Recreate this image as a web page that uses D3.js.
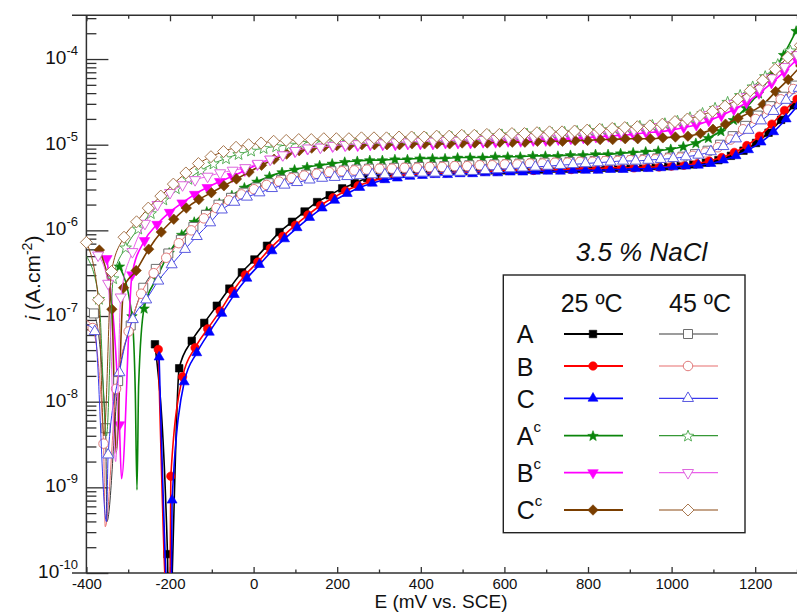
<!DOCTYPE html>
<html><head><meta charset="utf-8">
<script src="https://cdn.jsdelivr.net/npm/d3@7/dist/d3.min.js"></script>
<style>body{margin:0;background:#fff}svg{display:block;font-family:"Liberation Sans",Arial,sans-serif}</style>
</head><body>
<svg id="chart" width="797" height="614"></svg>
<script>
// ---------- axis values ----------
const X_DOMAIN = [-400, 1300];
const Y_DOMAIN = [1e-10, 3.24e-4];
const X_TICKS = [-400,-200,0,200,400,600,800,1000,1200];
const X_MINOR = [-300,-100,100,300,500,700,900,1100,1300];
const Y_TICKS = [1e-10,1e-9,1e-8,1e-7,1e-6,1e-5,1e-4];
const Y_EXP = ['-10','-9','-8','-7','-6','-5','-4'];

// ---------- data: E (mV vs SCE), log10 i (A/cm2); X_* = line-only points near Ecorr ----------
const E_A25 = [-236,-206,-178,-148,-118,-88,-58,-28,2,32,62,92,122,152,182,212,242,272,302,332,362,392,422,452,482,512,542,572,602,632,662,692,722,752,782,812,842,872,902,932,962,992,1022,1052,1082,1112,1142,1172,1202,1232,1262,1292];
const L_A25 = [-7.33,-9.78,-7.61,-7.29,-7.08,-6.88,-6.68,-6.49,-6.34,-6.18,-6.02,-5.90,-5.78,-5.67,-5.59,-5.51,-5.45,-5.39,-5.36,-5.34,-5.33,-5.32,-5.32,-5.31,-5.31,-5.31,-5.30,-5.30,-5.30,-5.29,-5.29,-5.29,-5.28,-5.28,-5.28,-5.27,-5.27,-5.27,-5.26,-5.26,-5.25,-5.25,-5.24,-5.23,-5.21,-5.18,-5.13,-5.07,-4.98,-4.86,-4.71,-4.54];
const X_A25 = [[-203,-10.8]];

const E_B25 = [-228,-198,-170,-140,-110,-80,-50,-20,10,40,70,100,130,160,190,220,250,280,310,340,370,400,430,460,490,520,550,580,610,640,670,700,730,760,790,820,850,880,910,940,970,1000,1030,1060,1090,1120,1150,1180,1210,1240,1270,1300];
const L_B25 = [-7.39,-8.87,-7.71,-7.37,-7.15,-6.94,-6.71,-6.52,-6.37,-6.21,-6.07,-5.94,-5.82,-5.71,-5.62,-5.54,-5.48,-5.43,-5.39,-5.36,-5.35,-5.34,-5.33,-5.33,-5.32,-5.32,-5.31,-5.31,-5.30,-5.30,-5.30,-5.29,-5.29,-5.29,-5.28,-5.28,-5.27,-5.27,-5.27,-5.26,-5.26,-5.25,-5.24,-5.22,-5.19,-5.15,-5.09,-5.01,-4.90,-4.76,-4.60,-4.47];
const X_B25 = [[-201,-10.8]];

const E_C25 = [-226,-195,-166,-136,-106,-76,-46,-16,14,44,74,104,134,164,194,224,254,284,314,344,374,404,434,464,494,524,554,584,614,644,674,704,734,764,794,824,854,884,914,944,974,1004,1034,1064,1094,1124,1154,1184,1214,1244,1274,1304];
const L_C25 = [-7.48,-9.15,-7.77,-7.43,-7.19,-6.97,-6.75,-6.56,-6.40,-6.24,-6.10,-5.97,-5.85,-5.74,-5.65,-5.57,-5.50,-5.45,-5.41,-5.39,-5.37,-5.36,-5.35,-5.35,-5.34,-5.34,-5.33,-5.33,-5.32,-5.32,-5.31,-5.31,-5.31,-5.30,-5.30,-5.30,-5.29,-5.29,-5.28,-5.28,-5.27,-5.26,-5.25,-5.24,-5.22,-5.18,-5.13,-5.06,-4.97,-4.85,-4.70,-4.53];
const X_C25 = [[-198,-10.8]];

const E_Ac25 = [-321,-291,-262,-232,-202,-172,-142,-112,-82,-52,-22,8,38,68,98,128,158,188,218,248,278,308,338,368,398,428,458,488,518,548,578,608,638,668,698,728,758,788,818,848,878,908,938,968,998,1028,1058,1088,1118,1148,1178,1208,1238,1268,1298];
const L_Ac25 = [-6.42,-7.00,-6.91,-6.56,-6.26,-6.05,-5.90,-5.78,-5.68,-5.59,-5.50,-5.43,-5.37,-5.32,-5.29,-5.26,-5.24,-5.22,-5.20,-5.19,-5.18,-5.18,-5.17,-5.17,-5.16,-5.16,-5.16,-5.15,-5.15,-5.15,-5.14,-5.14,-5.14,-5.13,-5.13,-5.13,-5.12,-5.12,-5.11,-5.11,-5.10,-5.09,-5.08,-5.07,-5.05,-5.02,-4.98,-4.92,-4.84,-4.71,-4.57,-4.40,-4.19,-3.95,-3.67];
const X_Ac25 = [[-283,-7.9],[-279,-9.03],[-275,-7.8]];

const E_Bc25 = [-351,-321,-291,-261,-231,-201,-171,-141,-111,-81,-51,-21,9,39,69,99,129,159,189,219,249,279,309,339,369,399,429,459,489,519,549,579,609,639,669,699,729,759,789,819,849,879,909,939,969,999,1029,1059,1089,1119,1149,1179,1209,1239,1269,1299];
const L_Bc25 = [-6.33,-8.27,-6.52,-6.12,-5.93,-5.79,-5.68,-5.58,-5.50,-5.43,-5.37,-5.30,-5.23,-5.17,-5.12,-5.08,-5.05,-5.03,-5.02,-5.01,-5.01,-5.00,-5.00,-5.00,-4.99,-4.99,-4.99,-4.98,-4.98,-4.98,-4.97,-4.97,-4.96,-4.96,-4.95,-4.95,-4.94,-4.93,-4.92,-4.91,-4.90,-4.89,-4.88,-4.86,-4.85,-4.83,-4.80,-4.77,-4.72,-4.66,-4.59,-4.51,-4.40,-4.28,-4.15,-4.01];
const X_Bc25 = [[-316,-8.9]];

const E_Cc25 = [-369,-339,-311,-281,-251,-221,-191,-161,-131,-101,-71,-41,-11,19,49,79,109,139,169,199,229,259,289,319,349,379,409,439,469,499,529,559,589,619,649,679,709,739,769,799,829,859,889,919,949,979,1009,1039,1069,1099,1129,1159,1189,1219,1249,1279,1309];
const L_Cc25 = [-6.23,-6.92,-6.67,-6.47,-6.22,-6.02,-5.87,-5.74,-5.64,-5.56,-5.48,-5.40,-5.32,-5.24,-5.17,-5.11,-5.07,-5.04,-5.02,-5.01,-5.01,-5.00,-5.00,-5.00,-5.00,-4.99,-4.99,-4.99,-4.99,-4.98,-4.98,-4.98,-4.97,-4.97,-4.97,-4.96,-4.96,-4.96,-4.95,-4.95,-4.94,-4.94,-4.93,-4.93,-4.93,-4.92,-4.91,-4.90,-4.87,-4.82,-4.76,-4.69,-4.62,-4.53,-4.38,-4.24,-4.08];
const X_Cc25 = [[-329,-8.6]];

const E_A45 = [-382,-354,-324,-294,-264,-234,-204,-174,-144,-114,-84,-54,-24,6,36,66,96,126,156,186,216,246,276,306,336,366,396,426,456,486,516,546,576,606,636,666,696,726,756,786,816,846,876,906,936,966,996,1026,1056,1086,1116,1146,1176,1206,1236,1266,1296];
const L_A45 = [-6.97,-8.31,-7.76,-7.11,-6.67,-6.45,-6.27,-6.11,-5.96,-5.82,-5.70,-5.62,-5.56,-5.50,-5.45,-5.41,-5.38,-5.35,-5.33,-5.31,-5.30,-5.29,-5.28,-5.28,-5.27,-5.27,-5.26,-5.26,-5.25,-5.25,-5.24,-5.24,-5.23,-5.23,-5.22,-5.22,-5.21,-5.21,-5.20,-5.20,-5.19,-5.19,-5.18,-5.18,-5.17,-5.16,-5.15,-5.14,-5.11,-5.07,-5.00,-4.90,-4.78,-4.66,-4.55,-4.44,-4.31];
const X_A45 = [[-400,-6.90],[-351,-9.4]];

const E_B45 = [-385,-359,-329,-299,-269,-239,-209,-179,-149,-119,-89,-59,-29,1,31,61,91,121,151,181,211,241,271,301,331,361,391,421,451,481,511,541,571,601,631,661,691,721,751,781,811,841,871,901,931,961,991,1021,1051,1081,1111,1141,1171,1201,1231,1261,1291];
const L_B45 = [-7.14,-8.49,-7.85,-7.18,-6.74,-6.50,-6.32,-6.15,-6.00,-5.86,-5.74,-5.65,-5.58,-5.52,-5.47,-5.43,-5.39,-5.36,-5.34,-5.32,-5.31,-5.30,-5.29,-5.28,-5.28,-5.27,-5.27,-5.26,-5.26,-5.25,-5.25,-5.24,-5.24,-5.23,-5.23,-5.22,-5.22,-5.21,-5.21,-5.20,-5.20,-5.19,-5.19,-5.18,-5.18,-5.17,-5.16,-5.15,-5.13,-5.09,-5.03,-4.94,-4.82,-4.70,-4.59,-4.47,-4.35];
const X_B45 = [[-400,-7.05],[-355,-9.46]];

const E_C45 = [-380,-348,-321,-289,-257,-228,-196,-164,-136,-104,-76,-46,-16,14,44,74,104,134,164,194,224,254,284,314,344,374,404,434,464,494,524,554,584,614,644,674,704,734,764,794,824,854,884,914,944,974,1004,1034,1064,1094,1124,1154,1184,1214,1244,1274,1304];
const L_C45 = [-7.18,-8.62,-7.66,-7.04,-6.81,-6.59,-6.40,-6.22,-6.07,-5.91,-5.76,-5.67,-5.61,-5.56,-5.51,-5.47,-5.44,-5.41,-5.39,-5.38,-5.37,-5.36,-5.35,-5.35,-5.34,-5.34,-5.33,-5.33,-5.32,-5.32,-5.31,-5.30,-5.29,-5.28,-5.27,-5.26,-5.25,-5.24,-5.23,-5.22,-5.21,-5.20,-5.19,-5.19,-5.18,-5.17,-5.16,-5.14,-5.12,-5.08,-5.02,-4.93,-4.83,-4.72,-4.61,-4.48,-4.34];
const X_C45 = [[-400,-7.10],[-352,-9.4]];

const E_Ac45 = [-370,-336,-306,-276,-246,-216,-186,-156,-126,-96,-66,-36,-6,24,54,84,114,144,174,204,234,264,294,324,354,384,414,444,474,504,534,564,594,624,654,684,714,744,774,804,834,864,894,924,954,984,1014,1044,1074,1104,1134,1164,1194,1224,1254,1284];
const L_Ac45 = [-6.80,-6.56,-6.20,-5.98,-5.80,-5.64,-5.51,-5.40,-5.30,-5.22,-5.16,-5.11,-5.07,-5.04,-5.02,-5.00,-4.98,-4.97,-4.96,-4.95,-4.95,-4.94,-4.94,-4.93,-4.93,-4.92,-4.92,-4.91,-4.91,-4.90,-4.90,-4.89,-4.88,-4.88,-4.87,-4.86,-4.86,-4.85,-4.84,-4.83,-4.82,-4.81,-4.80,-4.78,-4.77,-4.75,-4.72,-4.68,-4.63,-4.57,-4.50,-4.42,-4.32,-4.20,-4.06,-3.90];
const X_Ac45 = [[-400,-6.30],[-352,-8.4]];

const E_Bc45 = [-372,-348,-318,-290,-260,-230,-200,-170,-140,-110,-80,-50,-20,10,40,70,100,130,160,190,220,250,280,310,340,370,400,430,460,490,520,550,580,610,640,670,700,730,760,790,820,850,880,910,940,970,1000,1030,1060,1090,1120,1150,1180,1210,1240,1270,1300];
const L_Bc45 = [-6.29,-6.62,-6.78,-6.25,-5.92,-5.70,-5.56,-5.47,-5.41,-5.37,-5.33,-5.30,-5.27,-5.22,-5.17,-5.12,-5.07,-5.04,-5.03,-5.01,-5.00,-4.99,-4.98,-4.98,-4.97,-4.97,-4.96,-4.96,-4.95,-4.95,-4.94,-4.94,-4.93,-4.92,-4.92,-4.91,-4.90,-4.89,-4.88,-4.87,-4.86,-4.85,-4.84,-4.83,-4.81,-4.79,-4.77,-4.74,-4.70,-4.65,-4.59,-4.52,-4.44,-4.34,-4.22,-4.09,-3.95];
const X_Bc45 = [[-330,-8.7]];

const E_Cc45 = [-400,-371,-340,-310,-280,-252,-222,-192,-162,-132,-102,-72,-42,-12,18,48,78,108,138,168,198,228,258,288,318,348,378,408,438,468,498,528,558,588,618,648,678,708,738,768,798,828,858,888,918,948,978,1008,1038,1068,1098,1128,1158,1188,1218,1248,1278,1308];
const L_Cc45 = [-6.14,-6.81,-6.48,-6.08,-5.90,-5.74,-5.60,-5.46,-5.33,-5.22,-5.14,-5.08,-5.03,-5.00,-4.98,-4.96,-4.95,-4.94,-4.94,-4.93,-4.93,-4.93,-4.92,-4.92,-4.92,-4.91,-4.91,-4.91,-4.90,-4.90,-4.89,-4.89,-4.88,-4.88,-4.87,-4.87,-4.86,-4.85,-4.85,-4.84,-4.83,-4.82,-4.81,-4.80,-4.79,-4.78,-4.76,-4.73,-4.70,-4.66,-4.61,-4.55,-4.47,-4.37,-4.25,-4.12,-3.98,-3.84];
const X_Cc45 = [[-358,-8.4]];

// ---------- legend text ----------
const LEGEND_TITLE = '3.5 % NaCl';
const LEGEND_COLS = ['25 ºC', '45 ºC'];
const LEGEND_ROWS = [['A',''],['B',''],['C',''],['A','c'],['B','c'],['C','c']];

// ---------- styles ----------
const STYLES = {
  A25:{line:'#000000', mark:'#000000', shape:'square',  open:false, size:7.5,  lw:1.6},
  B25:{line:'#ff0000', mark:'#ff0000', shape:'circle',  open:false, size:8.5,  lw:1.6},
  C25:{line:'#0000ff', mark:'#0000ff', shape:'triUp',   open:false, size:10,   lw:1.6},
  Ac25:{line:'#0b850b', mark:'#0b850b', shape:'star',   open:false, size:11,   lw:1.6},
  Bc25:{line:'#ff00ff', mark:'#ff00ff', shape:'triDown',open:false, size:10.5, lw:1.6},
  Cc25:{line:'#7a3e00', mark:'#7a3e00', shape:'diamond',open:false, size:10.5, lw:1.6},
  A45:{line:'#3a3a3a', mark:'#6e6e6e', shape:'square',  open:true,  size:9,    lw:1},
  B45:{line:'#e86f6f', mark:'#e07a7a', shape:'circle',  open:true,  size:9.5,  lw:1},
  C45:{line:'#3838ee', mark:'#5a5ae0', shape:'triUp',   open:true,  size:11,   lw:1},
  Ac45:{line:'#369836', mark:'#5aaf5a', shape:'star',   open:true,  size:12,   lw:1},
  Bc45:{line:'#ec60ec', mark:'#dd66dd', shape:'triDown',open:true,  size:11,   lw:1},
  Cc45:{line:'#8b4a14', mark:'#a87850', shape:'diamond',open:true,  size:12,   lw:1}
};
const SERIES = [
  ['A25',E_A25,L_A25,X_A25],['B25',E_B25,L_B25,X_B25],['C25',E_C25,L_C25,X_C25],
  ['Ac25',E_Ac25,L_Ac25,X_Ac25],['Bc25',E_Bc25,L_Bc25,X_Bc25],['Cc25',E_Cc25,L_Cc25,X_Cc25],
  ['A45',E_A45,L_A45,X_A45],['B45',E_B45,L_B45,X_B45],['C45',E_C45,L_C45,X_C45],
  ['Ac45',E_Ac45,L_Ac45,X_Ac45],['Bc45',E_Bc45,L_Bc45,X_Bc45],['Cc45',E_Cc45,L_Cc45,X_Cc45]
];
const LEG_KEYS = [['A25','A45'],['B25','B45'],['C25','C45'],['Ac25','Ac45'],['Bc25','Bc45'],['Cc25','Cc45']];

function symPath(shape, s){
  const h = s/2;
  switch(shape){
    case 'square': return `M${-h},${-h}H${h}V${h}H${-h}Z`;
    case 'circle': return `M${h},0A${h},${h},0,1,1,${-h},0A${h},${h},0,1,1,${h},0Z`;
    case 'triUp': { const t=s*0.866; return `M0,${-t*2/3}L${h},${t/3}L${-h},${t/3}Z`; }
    case 'triDown': { const t=s*0.866; return `M0,${t*2/3}L${h},${-t/3}L${-h},${-t/3}Z`; }
    case 'diamond': return `M0,${-h}L${h},0L0,${h}L${-h},0Z`;
    case 'star': { const r=h*0.42; let p=''; for(let k=0;k<10;k++){const a=-Math.PI/2+k*Math.PI/5; const rr=k%2?r:h; p+=(k?'L':'M')+(rr*Math.cos(a)).toFixed(2)+','+(rr*Math.sin(a)+h*0.08).toFixed(2);} return p+'Z'; }
  }
}

const L=86.4, R=797, T=15.3, B=573;
const svg = d3.select('#chart');
svg.append('rect').attr('width',797).attr('height',614).attr('fill','#fff');
const x = d3.scaleLinear().domain(X_DOMAIN).range([L,R]);
const y = d3.scaleLog().domain(Y_DOMAIN).range([B,T]);
svg.append('defs').append('clipPath').attr('id','clip').append('rect')
  .attr('x',L).attr('y',T).attr('width',R-L).attr('height',B-T);

const AX = '#303030';
function styleAxis(g){ g.select('.domain').remove(); g.selectAll('line').attr('stroke',AX).attr('stroke-width',1.3); }

// bottom axis
svg.append('g').attr('transform',`translate(0,${B})`)
  .call(d3.axisBottom(x).tickValues(X_MINOR).tickSize(-3.5).tickFormat('')).call(styleAxis);
svg.append('g').attr('transform',`translate(0,${B})`)
  .call(d3.axisBottom(x).tickValues(X_TICKS).tickSize(-6).tickPadding(5.5).tickFormat(d=>String(d)))
  .call(styleAxis)
  .call(g=>g.selectAll('text').attr('font-size',15).attr('fill','#111').attr('font-family','"Liberation Sans",Arial,sans-serif'));
// top axis
svg.append('g').attr('transform',`translate(0,${T})`)
  .call(d3.axisTop(x).tickValues(X_MINOR).tickSize(-3.5).tickFormat('')).call(styleAxis);
svg.append('g').attr('transform',`translate(0,${T})`)
  .call(d3.axisTop(x).tickValues(X_TICKS).tickSize(-6).tickFormat('')).call(styleAxis);
// left axis
const yMinor = y.ticks().filter(v => Math.abs(Math.log10(v) - Math.round(Math.log10(v))) > 1e-6);
svg.append('g').attr('transform',`translate(${L},0)`)
  .call(d3.axisLeft(y).tickValues(yMinor).tickSize(-10).tickFormat('')).call(styleAxis);
svg.append('g').attr('transform',`translate(${L},0)`)
  .call(d3.axisLeft(y).tickValues(Y_TICKS).tickSize(-22).tickFormat('')).call(styleAxis);
// axis lines
svg.append('line').attr('x1',72).attr('x2',R).attr('y1',B).attr('y2',B).attr('stroke',AX).attr('stroke-width',1.5);
svg.append('line').attr('x1',72).attr('x2',R).attr('y1',T).attr('y2',T).attr('stroke',AX).attr('stroke-width',1.5);
svg.append('line').attr('x1',L).attr('x2',L).attr('y1',T).attr('y2',B).attr('stroke',AX).attr('stroke-width',1.5);

// y tick labels
const yl = svg.append('g').attr('fill','#111');
Y_TICKS.forEach((v,i)=>{
  const t = yl.append('text').attr('x',78).attr('y',y(v)+5).attr('text-anchor','end').attr('font-size',19);
  t.append('tspan').text('10');
  t.append('tspan').attr('dy',-9).attr('font-size',13).text(Y_EXP[i]);
});

// axis titles
svg.append('text').attr('x',441).attr('y',608).attr('text-anchor','middle').attr('font-size',19).attr('fill','#111').text('E (mV vs. SCE)');
const yt = svg.append('text').attr('transform','translate(40,278) rotate(-90)').attr('text-anchor','middle').attr('font-size',21).attr('fill','#111');
yt.append('tspan').attr('font-style','italic').text('i');
yt.append('tspan').text(' (A.cm');
yt.append('tspan').attr('dy',-8).attr('font-size',14).text('-2');
yt.append('tspan').attr('dy',8).text(')');

// series
const line = d3.line().x(d=>x(d[0])).y(d=>y(Math.pow(10,d[1]))).curve(d3.curveMonotoneX);
const plot = svg.append('g');
SERIES.forEach(([key,E,LI,XP])=>{
  const st = STYLES[key];
  const pts = E.map((e,i)=>[e,LI[i]]);
  const all = pts.concat(XP).sort((a,b)=>a[0]-b[0]);
  const g = plot.append('g');
  g.append('path').attr('d',line(all)).attr('fill','none').attr('stroke',st.line)
    .attr('stroke-width',st.lw).attr('clip-path','url(#clip)');
  const p = symPath(st.shape, st.size);
  g.selectAll('path.m').data(pts.filter(d=>{const yy=y(Math.pow(10,d[1])); return yy<=B+2 && yy>=T-2;}))
    .join('path').attr('class','m').attr('d',p)
    .attr('transform',d=>`translate(${x(d[0])},${y(Math.pow(10,d[1]))})`)
    .attr('fill',st.open?'#fff':st.mark).attr('stroke',st.mark).attr('stroke-width',st.open?1:0.6);
});

// legend
svg.append('text').attr('x',641.5).attr('y',261).attr('text-anchor','middle').attr('font-size',26)
  .attr('font-style','italic').attr('fill','#111').text(LEGEND_TITLE);
svg.append('rect').attr('x',503.3).attr('y',275).attr('width',241.7).attr('height',257.7)
  .attr('fill','#fff').attr('stroke','#222').attr('stroke-width',1.4);
svg.append('text').attr('x',560.7).attr('y',311.7).attr('font-size',25).attr('fill','#111').text(LEGEND_COLS[0]);
svg.append('text').attr('x',669).attr('y',311.7).attr('font-size',25).attr('fill','#111').text(LEGEND_COLS[1]);
const rowBase = [343.3,375.7,407.7,445,482.3,519.3];
const rowY = [334,366,398.3,435.7,472.7,510];
LEGEND_ROWS.forEach(([lab,sup],i)=>{
  const t = svg.append('text').attr('x',516.7).attr('y',rowBase[i]).attr('font-size',25).attr('fill','#111');
  t.append('tspan').text(lab);
  if(sup) t.append('tspan').attr('dy',-13).attr('font-size',15).text(sup);
  LEG_KEYS[i].forEach((k,j)=>{
    const st = STYLES[k];
    const x1 = j===0?564:659, x2 = j===0?623:718, xm = j===0?593:688;
    svg.append('line').attr('x1',x1).attr('x2',x2).attr('y1',rowY[i]).attr('y2',rowY[i])
      .attr('stroke',st.line).attr('stroke-width',j===0?1.8:1.2);
    svg.append('path').attr('d',symPath(st.shape,st.size)).attr('transform',`translate(${xm},${rowY[i]})`)
      .attr('fill',st.open?'#fff':st.mark).attr('stroke',st.mark).attr('stroke-width',st.open?1:0.6);
  });
});
</script>
</body></html>
